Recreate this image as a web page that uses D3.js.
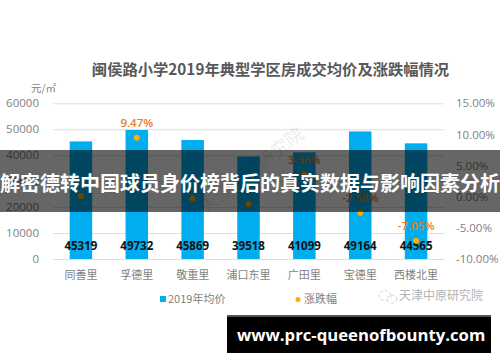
<!DOCTYPE html>
<html>
<head>
<meta charset="utf-8">
<script src="https://cdn.jsdelivr.net/npm/d3@7"></script>
<style>
  html, body { margin: 0; padding: 0; background: #fff; }
  text { font-family: "Noto Sans CJK SC", "Open Sans", sans-serif; }
  .num text, text.num { font-family: "Open Sans", "Noto Sans CJK SC", sans-serif; }
  .domain { display: none; }
</style>
</head>
<body>
<div id="chart"></div>
<script>
const categories = ["同善里", "孚德里", "敬重里", "浦口东里", "广田里", "宝德里", "西楼北里"];
const prices = [45319, 49732, 45869, 39518, 41099, 49164, 44565];
// first, third and fourth labels sit under the banner, values estimated from the dots
const changes = [0.1, 9.47, -0.3, -1.2, 3.56, -2.58, -7.05];
const changeLabels = ["", "9.47%", "", "", "3.56%", "-2.58%", "-7.05%"];
const priceTicks = [0, 10000, 20000, 30000, 40000, 50000, 60000];
const changeTicks = [-10, -5, 0, 5, 10, 15];

const chartTitle = "闽侯路小学2019年典型学区房成交均价及涨跌幅情况";
const bannerText = "解密德转中国球员身价榜背后的真实数据与影响因素分析";
const siteText = "www.prc-queenofbounty.com";
const sourceText = "天津中原研究院";

const margin = {top: 103.3, right: 56, bottom: 103, left: 53};
const width = 500 - margin.left - margin.right;
const height = 362 - margin.top - margin.bottom;

const svg = d3.select("#chart").append("svg")
  .attr("width", 500)
  .attr("height", 362)
  .style("display", "block");

const g = svg.append("g")
  .attr("transform", "translate(" + margin.left + "," + margin.top + ")");

const x = d3.scaleBand().domain(categories).range([0, width]);
const y = d3.scaleLinear().domain([0, 60000]).range([height, 0]);
const y2 = d3.scaleLinear().domain([-10, 15]).range([height, 0]);

// gridlines
g.append("g")
  .call(d3.axisLeft(y).tickValues(priceTicks).tickSize(-width).tickFormat(""))
  .selectAll("line").attr("stroke", "#dedede");

// left axis
const leftAxis = g.append("g").attr("class", "num")
  .call(d3.axisLeft(y).tickValues(priceTicks).tickSize(0).tickPadding(14).tickFormat(d3.format("d")));
leftAxis.selectAll("text").attr("font-size", 11.5).attr("fill", "#7f7f7f");

// right axis
const rightAxis = g.append("g").attr("class", "num")
  .attr("transform", "translate(" + width + ",0)")
  .call(d3.axisRight(y2).tickValues(changeTicks).tickSize(0).tickPadding(12).tickFormat(d => d.toFixed(2) + "%"));
rightAxis.selectAll("text").attr("font-size", 11.5).attr("fill", "#7f7f7f");

// category axis
const bottomAxis = g.append("g")
  .attr("transform", "translate(0," + height + ")")
  .call(d3.axisBottom(x).tickSize(0).tickPadding(12));
bottomAxis.selectAll("text").attr("font-size", 11).attr("fill", "#7f7f7f");

const barW = 22.5;
g.selectAll(".bar")
  .data(categories)
  .enter().append("rect")
  .attr("class", "bar")
  .attr("x", d => x(d) + x.bandwidth() / 2 - barW / 2)
  .attr("width", barW)
  .attr("y", (d, i) => y(prices[i]))
  .attr("height", (d, i) => height - y(prices[i]))
  .attr("fill", "#00aeef");

g.selectAll(".bar-label")
  .data(categories)
  .enter().append("text")
  .attr("class", "bar-label num")
  .attr("x", d => x(d) + x.bandwidth() / 2)
  .attr("y", height - 9)
  .attr("text-anchor", "middle")
  .attr("font-size", 11.5)
  .attr("font-weight", 700)
  .attr("fill", "#111")
  .text((d, i) => prices[i]);

g.selectAll(".dot")
  .data(categories)
  .enter().append("circle")
  .attr("class", "dot")
  .attr("cx", d => x(d) + x.bandwidth() / 2)
  .attr("cy", (d, i) => y2(changes[i]))
  .attr("r", 3)
  .attr("fill", "#ffae00");

g.selectAll(".dot-label")
  .data(categories)
  .enter().append("text")
  .attr("class", "dot-label num")
  .attr("x", d => x(d) + x.bandwidth() / 2)
  .attr("y", (d, i) => y2(changes[i]) - 11)
  .attr("text-anchor", "middle")
  .attr("font-size", 11.5)
  .attr("font-weight", 600)
  .attr("fill", "#e67d28")
  .text((d, i) => changeLabels[i]);

// title and unit
svg.append("text")
  .attr("x", 270.5).attr("y", 75)
  .attr("text-anchor", "middle")
  .attr("font-size", 15.3)
  .attr("font-weight", 700)
  .attr("fill", "#595959")
  .text(chartTitle);

svg.append("text")
  .attr("x", 31).attr("y", 92)
  .attr("font-size", 10.5)
  .attr("fill", "#7f7f7f")
  .text("元/㎡");

// legend
svg.append("rect")
  .attr("x", 160).attr("y", 296)
  .attr("width", 6).attr("height", 6)
  .attr("fill", "#00aeef");
svg.append("text")
  .attr("x", 168).attr("y", 303)
  .attr("font-size", 11)
  .attr("fill", "#7f7f7f")
  .text("2019年均价");
svg.append("circle")
  .attr("cx", 298).attr("cy", 299.5).attr("r", 2.5)
  .attr("fill", "#ffae00");
svg.append("text")
  .attr("x", 304).attr("y", 303)
  .attr("font-size", 11)
  .attr("fill", "#7f7f7f")
  .text("涨跌幅");

// source mark, bottom right
svg.append("ellipse")
  .attr("cx", 385).attr("cy", 295.5).attr("rx", 6).attr("ry", 5)
  .attr("fill", "none").attr("stroke", "#d4d4d4").attr("stroke-dasharray", "3 2");
svg.append("ellipse")
  .attr("cx", 392).attr("cy", 299).attr("rx", 5).attr("ry", 4)
  .attr("fill", "none").attr("stroke", "#d4d4d4").attr("stroke-dasharray", "3 2");
svg.append("text")
  .attr("x", 399).attr("y", 300)
  .attr("font-size", 12)
  .attr("fill", "#b4b4b4")
  .text(sourceText);

// diagonal watermark
svg.append("text")
  .attr("transform", "translate(206,214) rotate(-38)")
  .attr("font-size", 18)
  .attr("fill", "#000")
  .attr("opacity", 0.07)
  .text(sourceText);

// banner across the chart
svg.append("rect")
  .attr("x", 0).attr("y", 150)
  .attr("width", 500).attr("height", 62)
  .attr("fill", "#000")
  .attr("opacity", 0.6);
svg.append("text")
  .attr("x", 250).attr("y", 191)
  .attr("text-anchor", "middle")
  .attr("font-size", 20)
  .attr("font-weight", 700)
  .attr("fill", "#fff")
  .text(bannerText);

// site box
svg.append("rect")
  .attr("x", 227).attr("y", 315)
  .attr("width", 264).attr("height", 38)
  .attr("fill", "#000");
svg.append("rect")
  .attr("x", 227).attr("y", 315)
  .attr("width", 264).attr("height", 2)
  .attr("fill", "#555");
svg.append("text")
  .attr("class", "num")
  .attr("x", 237).attr("y", 341)
  .attr("font-size", 16.7)
  .attr("font-weight", 700)
  .attr("fill", "#fff")
  .text(siteText);
</script>
</body>
</html>
